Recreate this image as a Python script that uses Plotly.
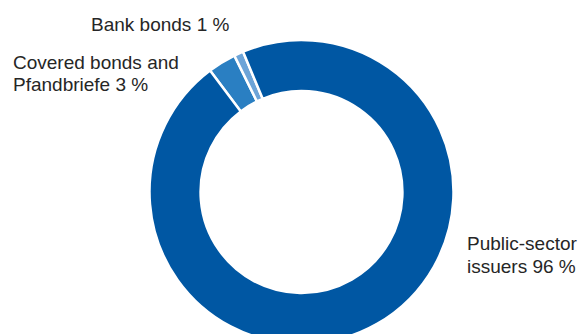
import plotly.graph_objects as go

labels = ["Covered bonds and Pfandbriefe", "Bank bonds", "Public-sector issuers"]
values = [3, 1, 96]
colors = ["#2A7FC2", "#6CA4D8", "#0057A3"]

W, H = 581, 350
L, R, T, B = 22, 0, 40, 6
PW, PH = W - L - R, H - T - B

def px(x):
    return (x - L) / PW

def py(y):
    return 1 - (y - T) / PH

fig = go.Figure(go.Pie(
    labels=labels,
    values=values,
    sort=False,
    direction="clockwise",
    rotation=323,
    hole=0.664,
    marker=dict(colors=colors, line=dict(color="white", width=2.5)),
    textinfo="none",
    hoverinfo="label+percent",
    showlegend=False,
))

font = dict(family="Liberation Sans, Arial, sans-serif", size=19, color="#262626")
ann = [
    ("Bank bonds 1 %", 89, 24),
    ("Covered bonds and", 11, 62),
    ("Pfandbriefe 3 %", 11, 84),
    ("Public-sector", 465, 243),
    ("issuers 96 %", 465, 266),
]
annotations = [
    dict(text=t, x=px(x), y=py(y), xref="paper", yref="paper",
         xanchor="left", yanchor="middle", showarrow=False, font=font)
    for t, x, y in ann
]

fig.update_layout(
    width=W, height=H, autosize=False,
    margin=dict(l=L, r=R, t=T, b=B, pad=0),
    paper_bgcolor="white", plot_bgcolor="white",
    annotations=annotations,
)

fig.write_html(
    "out.html",
    post_script="document.body.style.margin='0';document.body.style.overflow='hidden';document.documentElement.style.overflow='hidden';",
)
